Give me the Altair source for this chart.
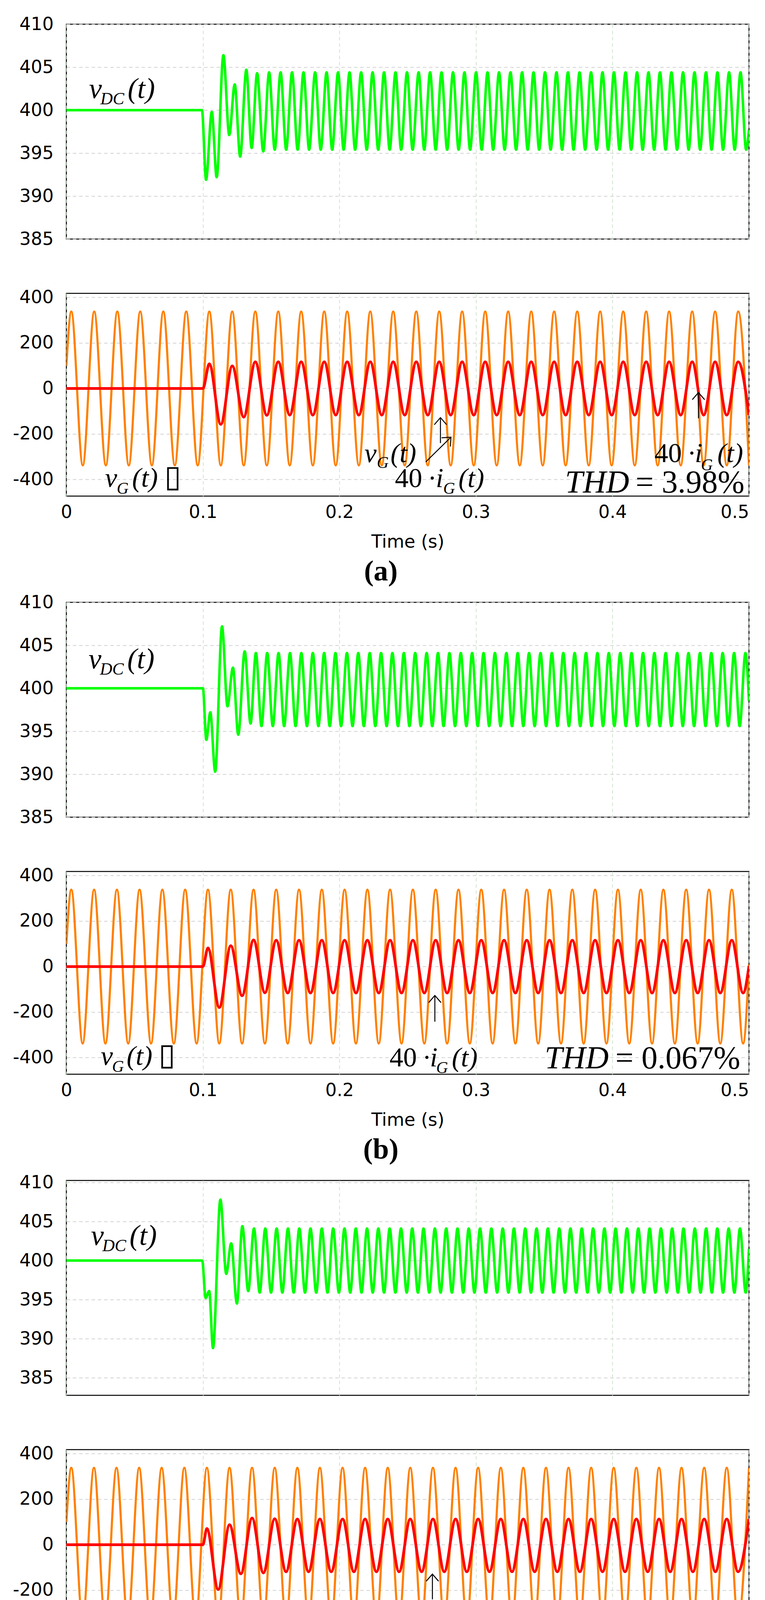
import pandas as pd
import altair as alt

# ---------------------------------------------------------------- data
# times of the peaks / troughs of v_G(t) (40*i_G(t) is in phase after 0.1 s), one list per case
t_ext_a = [0.0036, 0.0120, 0.0204, 0.0289, 0.0373, 0.0457, 0.0541, 0.0626, 0.0710, 0.0794,
           0.0878, 0.0962, 0.1047, 0.1131, 0.1215, 0.1299, 0.1384, 0.1468, 0.1552, 0.1636,
           0.1720, 0.1805, 0.1889, 0.1973, 0.2057, 0.2142, 0.2226, 0.2310, 0.2394, 0.2478,
           0.2563, 0.2647, 0.2731, 0.2815, 0.2899, 0.2984, 0.3068, 0.3152, 0.3236, 0.3321,
           0.3405, 0.3489, 0.3573, 0.3657, 0.3742, 0.3826, 0.3910, 0.3994, 0.4079, 0.4163,
           0.4247, 0.4331, 0.4415, 0.4500, 0.4584, 0.4668, 0.4752, 0.4837, 0.4921, 0.5000]
t_ext_b = [0.0036, 0.0119, 0.0203, 0.0286, 0.0370, 0.0453, 0.0536, 0.0620, 0.0703, 0.0787,
           0.0870, 0.0954, 0.1037, 0.1120, 0.1204, 0.1287, 0.1371, 0.1454, 0.1537, 0.1621,
           0.1704, 0.1788, 0.1871, 0.1954, 0.2038, 0.2121, 0.2205, 0.2288, 0.2371, 0.2455,
           0.2538, 0.2622, 0.2705, 0.2789, 0.2872, 0.2955, 0.3039, 0.3122, 0.3206, 0.3289,
           0.3372, 0.3456, 0.3539, 0.3623, 0.3706, 0.3789, 0.3873, 0.3956, 0.4040, 0.4123,
           0.4207, 0.4290, 0.4373, 0.4457, 0.4540, 0.4624, 0.4707, 0.4790, 0.4874, 0.4957]
t_ext_c = [0.0036, 0.0119, 0.0202, 0.0284, 0.0367, 0.0450, 0.0533, 0.0615, 0.0698, 0.0781,
           0.0864, 0.0947, 0.1029, 0.1112, 0.1195, 0.1278, 0.1360, 0.1443, 0.1526, 0.1609,
           0.1692, 0.1774, 0.1857, 0.1940, 0.2023, 0.2106, 0.2188, 0.2271, 0.2354, 0.2437,
           0.2519, 0.2602, 0.2685, 0.2768, 0.2851, 0.2933, 0.3016, 0.3099, 0.3182, 0.3264,
           0.3347, 0.3430, 0.3513, 0.3596, 0.3678, 0.3761, 0.3844, 0.3927, 0.4009, 0.4092,
           0.4175, 0.4258, 0.4341, 0.4423, 0.4506, 0.4589, 0.4672, 0.4754, 0.4837, 0.4920,
           0.5000]

# v_G(t) at those turning points
vg_ext = [338, -338, 338, -338, 338, -338, 338, -338, 338, -338,
          338, -338, 338, -338, 338, -338, 338, -338, 338, -338,
          338, -338, 338, -338, 338, -338, 338, -338, 338, -338,
          338, -338, 338, -338, 338, -338, 338, -338, 338, -338,
          338, -338, 338, -338, 338, -338, 338, -338, 338, -338,
          338, -338, 338, -338, 338, -338, 338, -338, 338, -338,
          338]
vg_start = [100, 100, 100]          # value at t = 0
vg_end_b = 10                       # case (b) ends between turning points

# 40*i_G(t) from the 13th turning point on (zero before 0.1 s)
ig_ext_a = [108, -158, 99, -126, 117, -118,
            117, -117, 117, -117, 117, -117, 117, -117, 117, -117,
            117, -117, 117, -117, 117, -117, 117, -117, 117, -117,
            117, -117, 117, -117, 117, -117, 117, -117, 117, -117,
            117, -117, 117, -117, 117, -117, 117, -117, 117, -117,
            117, -117]
ig_ext_b = [82, -180, 92, -128, 117, -115,
            116, -116, 116, -116, 116, -116, 116, -116, 116, -116,
            116, -116, 116, -116, 116, -116, 116, -116, 116, -116,
            116, -116, 116, -116, 116, -116, 116, -116, 116, -116,
            116, -116, 116, -116, 116, -116, 116, -116, 116, -116,
            116, -116]
ig_ext_c = [71, -197, 88, -128, 117, -124, 114,
            -119, 113, -119, 113, -119, 113, -119, 113, -119, 113,
            -119, 113, -119, 113, -119, 113, -119, 113, -119, 113,
            -119, 113, -119, 113, -119, 113, -119, 113, -119, 113,
            -119, 113, -119, 113, -119, 113, -119, 113, -119, 113,
            -119, 113]
ig_end_b = 3

# v_DC(t): flat part and load-step transient
vdc_t_a = [0, 0.0993, 0.1023, 0.1065, 0.1101, 0.1150, 0.1193, 0.1233, 0.1273, 0.1318, 0.1357, 0.1397, 0.1442]
vdc_v_a = [400, 400, 391.9, 399.8, 392.2, 406.4, 397.1, 403.0, 394.6, 404.7, 395.6, 404.3, 395.2]
vdc_t_b = [0, 0.1000, 0.1025, 0.1054, 0.1090, 0.1140, 0.1180, 0.1220, 0.1259, 0.1306, 0.1349]
vdc_v_b = [400, 400, 394.0, 397.2, 390.3, 407.2, 397.9, 402.4, 394.6, 404.3, 395.9]
vdc_t_c = [0, 0.0995, 0.1020, 0.1046, 0.1074, 0.1128, 0.1171, 0.1207, 0.1249, 0.1289, 0.1332]
vdc_v_c = [400, 400, 395.2, 396.1, 388.8, 407.8, 398.3, 402.2, 394.5, 404.4, 396.1]
# steady 120 Hz ripple: first turning point used, (peak, trough), lag after v_G turning point, value at 0.5 s
vdc_k0 = [17, 16, 16]
vdc_ripple = [(404.4, 395.4), (404.1, 395.6), (404.1, 395.9)]
vdc_lag = [(0.0017, 0.0058), (0.0017, 0.0058), (0.0014, 0.0056)]
vdc_end = [397.7, 398.5, 401.5]

y_top_dom = [[385, 410], [385, 410], [382.75, 410.25]]

# annotations (position of each piece in data units)
ann_top = [
    {"t": [0.0166, 0.0249, 0.0449], "v": [401.4, 400.7, 401.4]},
    {"t": [0.0162, 0.0245, 0.0446], "v": [402.3, 401.6, 402.3]},
    {"t": [0.0180, 0.0263, 0.0463], "v": [402.0, 401.2, 402.0]},
]
ann_top_text = ["v", "DC", "(t)"]
ann_top_size = [74, 44, 74]

ann_bot_a = {
    "text": ["v", "G", "(t)", "\u25af",
             "v", "G", "(t)",
             "40\u2009\u00b7", "i", "G", "(t)",
             "40\u2009\u00b7", "i", "G", "(t)",
             "THD", "= 3.98%"],
    "t": [0.0283, 0.0369, 0.0481, 0.0718,
          0.2183, 0.2274, 0.2374,
          0.2406, 0.2706, 0.2760, 0.2872,
          0.4308, 0.4603, 0.4648, 0.4768,
          0.3653, 0.4170],
    "v": [-431, -463, -431, -431,
          -323, -350, -323,
          -433, -433, -463, -433,
          -323, -323, -359, -323,
          -457, -457],
    "size": [70, 42, 70, 78, 70, 42, 70, 70, 70, 42, 70, 70, 70, 42, 70, 82, 82],
    "kind": ["it", "it", "it", "box", "it", "it", "it", "rm", "it", "it", "it",
             "rm", "it", "it", "it", "it", "rm"],
}
ann_bot_b = {
    "text": ["v", "G", "(t)", "\u25af", "40\u2009\u00b7", "i", "G", "(t)", "THD", "= 0.067%"],
    "t": [0.0252, 0.0335, 0.0441, 0.0675, 0.2367, 0.2663, 0.2709, 0.2823, 0.3503, 0.4022],
    "v": [-431, -463, -431, -431, -438, -438, -468, -438, -447, -447],
    "size": [70, 42, 70, 78, 70, 70, 42, 70, 82, 82],
    "kind": ["it", "it", "it", "box", "rm", "it", "it", "it", "it", "rm"],
}
ann_bot_c = {
    "text": ["v", "G", "(t)", "\u25af", "40\u2009\u00b7", "i", "G", "(t)", "THD", "= 3.68%"],
    "t": [0.0235, 0.0312, 0.0420, 0.0658, 0.2343, 0.2637, 0.2689, 0.2806, 0.3646, 0.4164],
    "v": [-436, -466, -436, -436, -431, -431, -462, -431, -453, -453],
    "size": [70, 42, 70, 78, 70, 70, 42, 70, 82, 82],
    "kind": ["it", "it", "it", "box", "rm", "it", "it", "it", "it", "rm"],
}

# arrows: tail (t, v) -> tip (t2, v2), head angle
arrows_a = {"t": [0.2740, 0.2632, 0.4630], "v": [-240, -323, -131],
            "t2": [0.2740, 0.2817, 0.4630], "v2": [-128, -214, -18], "ang": [0, 45, 0]}
arrows_b = {"t": [0.2699], "v": [-242], "t2": [0.2699], "v2": [-127], "ang": [0]}
arrows_c = {"t": [0.2681], "v": [-240], "t2": [0.2681], "v2": [-129], "ang": [0]}

labels = ["(a)", "(b)", "(c)"]
t_ticks = [0, 0.1, 0.2, 0.3, 0.4, 0.5]

# ---------------------------------------------------------------- layout / style
W, H_TOP, H_BOT = 1748, 550, 519
GAP_IN, GAP_OUT = 139, 272
SANS = "DejaVu Sans"
SERIF = "Liberation Serif"
CHEVRON = "M-1,1.15L0,0L1,1.15"
PLAIN = "'' + datum.value"   # hyphen minus, as in the original

x_scale = alt.Scale(domain=[0, 0.5], nice=False, zero=False)
x_top = alt.X("t:Q", scale=x_scale,
              axis=alt.Axis(values=t_ticks, labels=False, ticks=False, domain=False, title=None))
x_bot = alt.X("t:Q", scale=x_scale,
              axis=alt.Axis(values=t_ticks, format="~g", ticks=False, domain=False,
                            labelFlush=False, labelPadding=19,
                            labelAlign=alt.expr("datum.value >= 0.5 ? 'right' : 'center'"),
                            title="Time (s)", titlePadding=31))


def y_top(dom):
    return alt.Y("v:Q", scale=alt.Scale(domain=dom, nice=False, zero=False),
                 axis=alt.Axis(values=[385, 390, 395, 400, 405, 410], ticks=False, labelExpr=PLAIN,
                               domain=False, labelPadding=33, title=None))


y_bot = alt.Y("v:Q", scale=alt.Scale(domain=[-473, 418], nice=False, zero=False),
              axis=alt.Axis(values=[-400, -200, 0, 200, 400], ticks=False, labelExpr=PLAIN,
                            domain=False, labelPadding=33, title=None))


def text_layers(ann, x, y):
    df = pd.DataFrame(ann)
    out = []
    for kind, font, style in [("it", SERIF, "italic"), ("rm", SERIF, "normal"), ("box", SANS, "normal")]:
        sub = df[df["kind"] == kind]
        if len(sub) == 0:
            continue
        out.append(
            alt.Chart(sub).mark_text(align="left", baseline="alphabetic", font=font,
                                     fontStyle=style, color="black")
            .encode(x=x, y=y, text="text:N",
                    size=alt.Size("size:Q", scale=None, legend=None))
        )
    return out


def top_panel(i, t_ext):
    lo_pk, lo_tr = vdc_lag[i]
    pk, tr = vdc_ripple[i]
    t = list([vdc_t_a, vdc_t_b, vdc_t_c][i])
    v = list([vdc_v_a, vdc_v_b, vdc_v_c][i])
    for tk in t_ext[vdc_k0[i]:]:
        if tk + lo_pk < 0.5:
            t.append(tk + lo_pk)
            v.append(pk)
        if tk + lo_tr < 0.5:
            t.append(tk + lo_tr)
            v.append(tr)
    t.append(0.5)
    v.append(vdc_end[i])
    df = pd.DataFrame({"t": t, "v": v})
    x, y = x_top, y_top(y_top_dom[i])
    line = alt.Chart(df).mark_line(color="#00ff00", strokeWidth=6.5, interpolate="monotone",
                                   clip=True).encode(x=x, y=y)
    ann = dict(ann_top[i], text=ann_top_text, size=ann_top_size, kind=["it", "it", "it"])
    return alt.layer(line, *text_layers(ann, x, y)).properties(width=W, height=H_TOP)


def bottom_panel(i, t_ext, ig_ext, ann, arrows):
    tv = [0.0] + t_ext
    vv = [vg_start[i]] + vg_ext[:len(t_ext)]
    ti = [0.0, 0.1] + t_ext[12:]
    vi = [0, 0] + ig_ext
    if t_ext[-1] < 0.5:
        tv.append(0.5)
        vv.append(vg_end_b)
        ti.append(0.5)
        vi.append(ig_end_b)
    x, y = x_bot, y_bot
    grid_v = alt.Chart(pd.DataFrame({"t": tv, "v": vv})).mark_line(
        color="#ff8000", strokeWidth=5.5, interpolate="monotone", clip=True).encode(x=x, y=y)
    cur = alt.Chart(pd.DataFrame({"t": ti, "v": vi})).mark_line(
        color="#ff0000", strokeWidth=7, interpolate="monotone", clip=True).encode(x=x, y=y)
    adf = pd.DataFrame(arrows)
    shafts = alt.Chart(adf).mark_rule(color="black", strokeWidth=2.5).encode(
        x=x, x2="t2:Q", y=y, y2="v2:Q")
    heads = alt.Chart(adf).mark_point(shape=CHEVRON, filled=False, color="black", opacity=1,
                                      strokeWidth=2.5, size=1000).encode(
        x=alt.X("t2:Q", scale=x_scale), y=alt.Y("v2:Q"),
        angle=alt.Angle("ang:Q", scale=None))
    return alt.layer(grid_v, cur, shafts, heads, *text_layers(ann, x, y)).properties(
        width=W, height=H_BOT,
        title=alt.Title(labels[i], orient="bottom", anchor="middle", frame="bounds",
                        font=SERIF, fontSize=74, fontWeight="bold", color="black", offset=18))


def spacer(h):
    return alt.Chart(pd.DataFrame({"t": [0]})).mark_point(opacity=0).encode(
        x=alt.value(0), y=alt.value(0)).properties(
        width=W, height=h, view=alt.ViewBackground(strokeOpacity=0))


panels = []
cases = [(t_ext_a, ig_ext_a, ann_bot_a, arrows_a),
         (t_ext_b, ig_ext_b, ann_bot_b, arrows_b),
         (t_ext_c, ig_ext_c, ann_bot_c, arrows_c)]
for i, (te, ie, ann, arr) in enumerate(cases):
    if i:
        panels.append(spacer(GAP_OUT))
    panels.append(top_panel(i, te))
    panels.append(spacer(GAP_IN))
    panels.append(bottom_panel(i, te, ie, ann, arr))

# flush layout leaves the last axis/title out of the computed size: pad the bottom for them
chart = (
    alt.vconcat(*panels, spacing=0, bounds="flush")
    .properties(padding={"left": 23, "top": 29, "right": 10, "bottom": 425})
    .configure_view(stroke="black", strokeWidth=2.5)
    .configure_axis(labelFont=SANS, labelFontSize=46, labelColor="black", labelOverlap=False,
                    titleFont=SANS, titleFontSize=46, titleFontWeight="normal", titleColor="black",
                    gridDash=[9, 7], gridWidth=2)
    .configure_axisX(gridColor="#cfe4cf")
    .configure_axisY(gridColor="#d2d2d2")
)

chart.save("out.html", embed_options={"renderer": "svg", "actions": False})
